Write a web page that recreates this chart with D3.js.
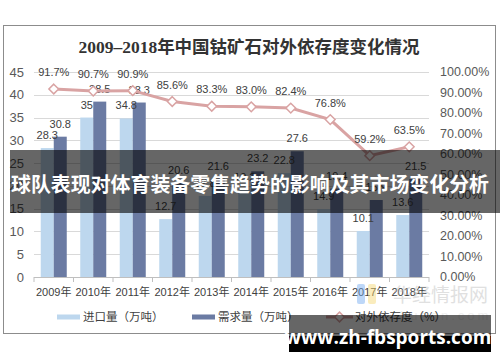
<!DOCTYPE html>
<html>
<head>
<meta charset="utf-8">
<script src="https://cdn.jsdelivr.net/npm/d3@7"></script>
<style>
  body { margin: 0; background: #fff; }
  svg { display: block; }
</style>
</head>
<body>
<div id="chart"></div>
<script>
var years = ["2009年", "2010年", "2011年", "2012年", "2013年", "2014年", "2015年", "2016年", "2017年", "2018年"];
var importVals = [28.3, 35, 34.8, 12.7, 17.8, 19.2, 22.8, 14.9, 10.1, 13.6];
var demandVals = [30.8, 38.5, 38.3, 20.6, 21.6, 23.2, 27.6, 19.4, 16.9, 21.5];
var dependVals = [91.7, 90.7, 90.9, 85.6, 83.3, 83.0, 82.4, 76.8, 59.2, 63.5];
var leftTicks = [0, 5, 10, 15, 20, 25, 30, 35, 40, 45];
var rightTicks = [0, 10, 20, 30, 40, 50, 60, 70, 80, 90, 100];

var width = 500, height = 362;
var lightBlue = "#BDD7EE", darkBlue = "#6B7BA3", pink = "#D9A3A3";
var cjk = "'Liberation Sans', 'Noto Sans CJK SC', sans-serif";

var svg = d3.select("#chart").append("svg")
  .attr("width", width)
  .attr("height", height);

// chart frame
svg.append("rect")
  .attr("x", 3.5).attr("y", 25.5)
  .attr("width", 492).attr("height", 308)
  .attr("fill", "#fff")
  .attr("stroke", "#8c8c8c");

svg.append("text")
  .attr("x", 249).attr("y", 53)
  .attr("text-anchor", "middle")
  .attr("font-family", "'Liberation Serif', 'Noto Sans CJK SC', serif")
  .attr("font-weight", "bold")
  .attr("font-size", 17.5)
  .attr("fill", "#333")
  .text("2009–2018年中国钴矿石对外依存度变化情况");

var x = d3.scaleBand().domain(years).range([34, 429]).padding(0);
var xSub = d3.scaleBand().domain(["imp", "dem"]).range([6.75, x.bandwidth() - 6.75]);
var y = d3.scaleLinear().domain([0, 45]).range([277, 72]);
var y2 = d3.scaleLinear().domain([0, 100]).range([277, 72]);

// gridlines
svg.append("g").selectAll("line")
  .data(leftTicks.filter(d => d > 0))
  .enter().append("line")
  .attr("x1", 34).attr("x2", 429)
  .attr("y1", d => Math.round(y(d)) + 0.5)
  .attr("y2", d => Math.round(y(d)) + 0.5)
  .attr("stroke", "#d9d9d9");

// left axis labels
svg.append("g").selectAll("text")
  .data(leftTicks)
  .enter().append("text")
  .attr("x", 24).attr("y", d => y(d))
  .attr("dy", "0.35em")
  .attr("text-anchor", "end")
  .attr("font-family", "'Liberation Sans', sans-serif")
  .attr("font-size", 13)
  .attr("fill", "#595959")
  .text(d => d);

// right axis labels
svg.append("g").selectAll("text")
  .data(rightTicks)
  .enter().append("text")
  .attr("x", 440).attr("y", d => y2(d))
  .attr("dy", "0.35em")
  .attr("font-family", "'Liberation Sans', sans-serif")
  .attr("font-size", 12.5)
  .attr("fill", "#595959")
  .text(d => d3.format(".2f")(d) + "%");

// bars
var groups = svg.append("g").selectAll("g")
  .data(years)
  .enter().append("g")
  .attr("transform", d => "translate(" + x(d) + ",0)");

groups.append("rect")
  .attr("x", xSub("imp"))
  .attr("width", xSub.bandwidth())
  .attr("y", (d, i) => y(importVals[i]))
  .attr("height", (d, i) => y(0) - y(importVals[i]))
  .attr("fill", lightBlue);

groups.append("rect")
  .attr("x", xSub("dem"))
  .attr("width", xSub.bandwidth())
  .attr("y", (d, i) => y(demandVals[i]))
  .attr("height", (d, i) => y(0) - y(demandVals[i]))
  .attr("fill", darkBlue);

groups.append("text")
  .attr("x", xSub("imp") + xSub.bandwidth() / 2)
  .attr("y", (d, i) => y(importVals[i]) - 9)
  .attr("text-anchor", "middle")
  .attr("font-family", "'Liberation Sans', sans-serif")
  .attr("font-size", 11)
  .attr("fill", "#404040")
  .text((d, i) => importVals[i]);

groups.append("text")
  .attr("x", xSub("dem") + xSub.bandwidth() / 2)
  .attr("y", (d, i) => y(demandVals[i]) - 9)
  .attr("text-anchor", "middle")
  .attr("font-family", "'Liberation Sans', sans-serif")
  .attr("font-size", 11)
  .attr("fill", "#404040")
  .text((d, i) => demandVals[i]);

// x axis
svg.append("line")
  .attr("x1", 34).attr("x2", 429)
  .attr("y1", 277.5).attr("y2", 277.5)
  .attr("stroke", "#bfbfbf");
svg.append("g").selectAll("line")
  .data(years.concat(["end"]))
  .enter().append("line")
  .attr("x1", (d, i) => 34 + i * x.bandwidth())
  .attr("x2", (d, i) => 34 + i * x.bandwidth())
  .attr("y1", 277).attr("y2", 282)
  .attr("stroke", "#bfbfbf");

svg.append("g").selectAll("text")
  .data(years)
  .enter().append("text")
  .attr("x", d => x(d) + x.bandwidth() / 2)
  .attr("y", 296)
  .attr("text-anchor", "middle")
  .attr("font-family", cjk)
  .attr("font-size", 11)
  .attr("fill", "#404040")
  .text(d => d);

// dependency line
var line = d3.line()
  .x((d, i) => x(years[i]) + x.bandwidth() / 2)
  .y(d => y2(d));

svg.append("path")
  .datum(dependVals)
  .attr("d", line)
  .attr("fill", "none")
  .attr("stroke", pink)
  .attr("stroke-width", 3);

var diamond = d3.symbol().type(d3.symbolDiamond2).size(60);
svg.append("g").selectAll("path")
  .data(dependVals)
  .enter().append("path")
  .attr("d", diamond)
  .attr("transform", (d, i) => "translate(" + (x(years[i]) + x.bandwidth() / 2) + "," + y2(d) + ")")
  .attr("fill", "#fff")
  .attr("stroke", pink)
  .attr("stroke-width", 1.5);

svg.append("g").selectAll("text")
  .data(dependVals)
  .enter().append("text")
  .attr("x", (d, i) => x(years[i]) + x.bandwidth() / 2)
  .attr("y", d => y2(d) - 13)
  .attr("text-anchor", "middle")
  .attr("font-family", "'Liberation Sans', sans-serif")
  .attr("font-size", 11)
  .attr("fill", "#404040")
  .text(d => d.toFixed(1) + "%");

// huaon watermark
var wm = svg.append("g").attr("opacity", 0.45);
wm.append("rect").attr("x", 357).attr("y", 284).attr("width", 8).attr("height", 20).attr("rx", 2).attr("fill", "#6fa8f0");
wm.append("rect").attr("x", 368).attr("y", 284).attr("width", 8).attr("height", 20).attr("rx", 2).attr("fill", "#f5d76e");
wm.append("text").attr("x", 393).attr("y", 302)
  .attr("font-family", "'Noto Sans CJK SC', sans-serif")
  .attr("font-size", 19).attr("fill", "#bbb")
  .text("华经情报网");
wm.append("text").attr("x", 400).attr("y", 320)
  .attr("font-family", "'Liberation Sans', sans-serif")
  .attr("font-size", 13).attr("letter-spacing", 3).attr("fill", "#ddd")
  .text("huaon.com");

// legend
var legend = [
  { name: "进口量（万吨）", color: lightBlue, x: 57, type: "bar" },
  { name: "需求量（万吨）", color: darkBlue, x: 192, type: "bar" },
  { name: "对外依存度（%）", color: pink, x: 326, type: "line" }
];
var lg = svg.append("g").selectAll("g")
  .data(legend)
  .enter().append("g")
  .attr("transform", d => "translate(" + d.x + ",317)");
lg.filter(d => d.type === "bar").append("rect")
  .attr("x", 0).attr("y", -2.5)
  .attr("width", 23).attr("height", 5)
  .attr("fill", d => d.color);
lg.filter(d => d.type === "line").append("line")
  .attr("x1", 0).attr("x2", 27).attr("y1", 0).attr("y2", 0)
  .attr("stroke", d => d.color).attr("stroke-width", 3);
lg.filter(d => d.type === "line").append("path")
  .attr("d", diamond)
  .attr("transform", "translate(13.5,0)")
  .attr("fill", "#fff")
  .attr("stroke", d => d.color)
  .attr("stroke-width", 1.5);
lg.append("text")
  .attr("x", d => d.type === "line" ? 29 : 26)
  .attr("y", 0).attr("dy", "0.35em")
  .attr("font-family", "'Noto Sans CJK SC', sans-serif")
  .attr("font-size", 11.5)
  .attr("fill", "#404040")
  .text(d => d.name);

// overlay banner
svg.append("rect")
  .attr("x", 10).attr("y", 150)
  .attr("width", 490).attr("height", 63)
  .attr("fill", "rgba(0,0,0,0.6)");
svg.append("text")
  .attr("x", 11).attr("y", 185)
  .attr("dy", "0.35em")
  .attr("textLength", 478)
  .attr("lengthAdjust", "spacingAndGlyphs")
  .attr("font-family", "'Noto Sans CJK SC', sans-serif")
  .attr("font-weight", "bold")
  .attr("font-size", 20.5)
  .attr("fill", "#fff")
  .text("球队表现对体育装备零售趋势的影响及其市场变化分析");

// site watermark
svg.append("rect")
  .attr("x", 289).attr("y", 315)
  .attr("width", 202).attr("height", 21)
  .attr("fill", "rgba(0,0,0,0.6)");
svg.append("rect")
  .attr("x", 289).attr("y", 336)
  .attr("width", 202).attr("height", 16)
  .attr("fill", "#000");
svg.append("text")
  .attr("x", 388).attr("y", 337)
  .attr("dy", "0.35em")
  .attr("text-anchor", "middle")
  .attr("font-family", "'Open Sans', sans-serif")
  .attr("font-weight", "bold")
  .attr("font-size", 19)
  .attr("fill", "#fff")
  .text("www.zh-fbsports.com");
</script>
</body>
</html>
